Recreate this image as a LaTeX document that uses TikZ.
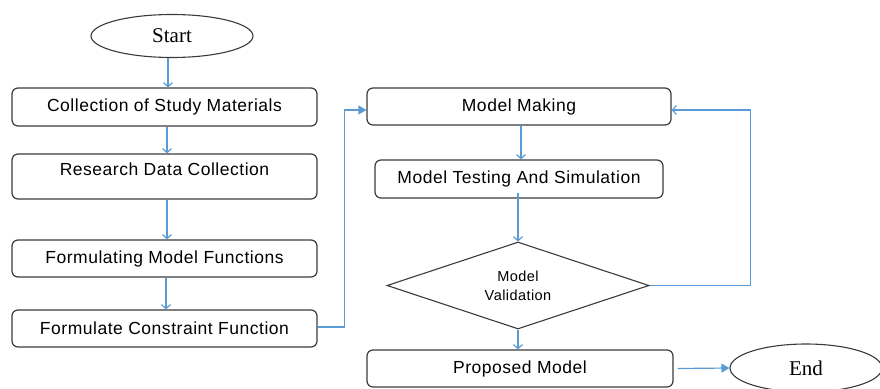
\documentclass[tikz,border=0pt]{standalone}
\usepackage{fontspec}
\setmainfont{Liberation Serif}
\newfontfamily\boxfont[LetterSpace=3]{Liberation Sans}
\usetikzlibrary{shapes.geometric,arrows.meta}
\definecolor{flowblue}{HTML}{5B9BD5}
\definecolor{edgegray}{HTML}{3A3A3A}
\tikzset{
  stepbox/.style={draw=edgegray, line width=1.2pt, rounded corners=6pt,
    inner sep=0pt, font=\boxfont\fontsize{17.5}{20}\selectfont},
  terminal/.style={draw=edgegray, line width=1.1pt, ellipse, inner sep=0pt,
    font=\fontsize{21}{24}\selectfont},
  decision/.style={draw=edgegray, line width=1.1pt, diamond, aspect=3, inner sep=0pt,
    align=center, font=\boxfont\fontsize{14.5}{19}\selectfont},
  link/.style={draw=flowblue, line width=1.2pt},
  barb/.style={link, -{Straight Barb[length=4pt,width=9pt,line width=1.2pt]}},
  solidtip/.style={link, -{Triangle[length=8pt,width=9pt]}},
}
\begin{document}
\begin{tikzpicture}[x=1pt,y=-1pt]
  \useasboundingbox (0,0) rectangle (880,388);
  \begin{scope}
    \clip (0,0) rectangle (880,388);

    % left column
    \node[terminal, minimum width=162, minimum height=43] (start) at (172,36) {Start};
    \node[stepbox, minimum width=305, minimum height=38] (b1) at (164.5,107) {Collection of Study Materials};
    \node[stepbox, minimum width=305, minimum height=45, text depth=14pt] (b2) at (164.5,176.5) {Research Data Collection};
    \node[stepbox, minimum width=305, minimum height=37] (b3) at (164.5,258.5) {Formulating Model Functions};
    \node[stepbox, minimum width=305, minimum height=37] (b4) at (164.5,328.5) {Formulate Constraint Function};

    % right column
    \node[stepbox, minimum width=304, minimum height=37] (mm) at (519,106.5) {Model Making};
    \node[stepbox, minimum width=288, minimum height=38] (mt) at (519,179) {Model Testing And Simulation};
    \node[decision, minimum width=262, minimum height=87] (val) at (518,285.5) {Model\\Validation};
    \node[stepbox, minimum width=306, minimum height=37] (pm) at (520,368.5) {Proposed Model};
    \node[terminal, minimum width=152, minimum height=48] (end) at (806,368) {End};

    % connectors
    \draw[barb] ([xshift=-4pt]start.south) -- ([xshift=-4pt]start.south |- b1.north);
    \draw[barb] ([xshift=2.5pt]b1.south) -- ([xshift=2.5pt]b2.north);
    \draw[barb] ([xshift=2.5pt]b2.south) -- ([xshift=2.5pt]b3.north);
    \draw[barb] ([xshift=1.5pt]b3.south) -- ([xshift=1.5pt]b4.north);
    \draw[solidtip] ([yshift=1.5pt]b4.east) -- ++(27,0) |- ([yshift=-3.5pt]mm.west);
    \draw[barb] ([xshift=2pt]mm.south) -- ([xshift=2pt]mm.south |- mt.north);
    \draw[barb] ([xshift=-1pt,yshift=6pt]mt.south) -- (val.north);
    \draw[barb] (val.east) -- ++(101,0) |- ([yshift=-3.5pt]mm.east);
    \draw[barb] (val.south) -- (val.south |- pm.north);
    \draw[solidtip] ([xshift=4pt]pm.east) -- (end.west);
  \end{scope}
\end{tikzpicture}
\end{document}
